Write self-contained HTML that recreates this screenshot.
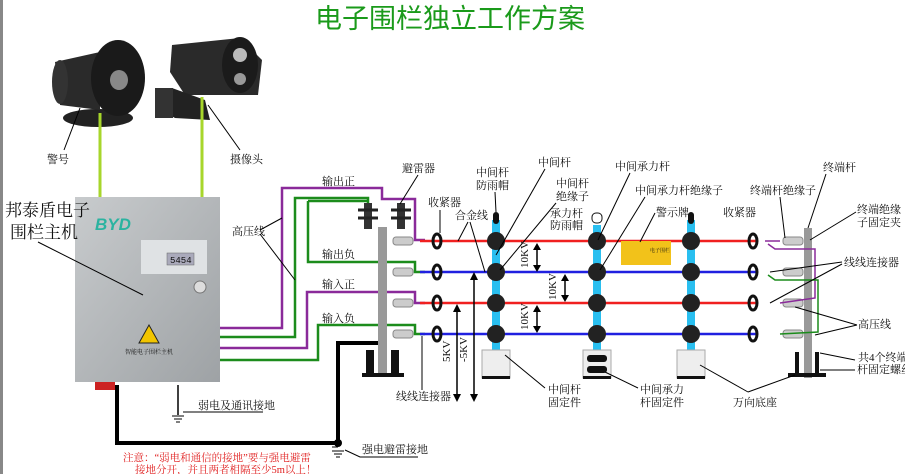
<!DOCTYPE html>
<html><head><meta charset="utf-8"><style>
body{margin:0;background:#fff;width:905px;height:474px;overflow:hidden}
svg{display:block}
text{font-family:"Liberation Serif","Noto Serif CJK SC","Noto Sans CJK SC",serif;font-size:11px;fill:#111}
</style></head><body>
<svg width="905" height="474" viewBox="0 0 905 474" xmlns="http://www.w3.org/2000/svg">
<rect x="0" y="0" width="3" height="474" fill="#888"/>
<text x="450" y="28" text-anchor="middle" style="font-size:27px;fill:#1a9a1a;font-family:'Noto Sans CJK SC',sans-serif">电子围栏独立工作方案</text>

<!-- speaker -->
<g>
<ellipse cx="98" cy="118" rx="35" ry="9" fill="#222"/>
<path d="M55 62 L100 52 L100 110 L60 105 Z" fill="#2a2a2a"/>
<ellipse cx="60" cy="82" rx="8" ry="22" fill="#333"/>
<ellipse cx="118" cy="78" rx="27" ry="38" fill="#1a1a1a"/>
<ellipse cx="119" cy="80" rx="9" ry="10" fill="#888"/>
</g>
<!-- camera -->
<g>
<path d="M172 45 L240 38 L262 60 L258 95 L185 95 L170 72 Z" fill="#2a2a2a"/>
<ellipse cx="240" cy="65" rx="18" ry="28" fill="#1b1b1b"/>
<circle cx="240" cy="55" r="7" fill="#bbb"/>
<circle cx="240" cy="79" r="6" fill="#999"/>
<path d="M155 90 L172 88 L205 100 L210 120 L175 118 L160 110 Z" fill="#222"/>
<rect x="155" y="88" width="18" height="30" fill="#333"/>
</g>
<line x1="100" y1="113" x2="100" y2="197" stroke="#a7d62b" stroke-width="3"/>
<line x1="202" y1="97" x2="202" y2="197" stroke="#a7d62b" stroke-width="3"/>
<line x1="80" y1="108" x2="64" y2="150" stroke="#000"/>
<line x1="208" y1="105" x2="240" y2="150" stroke="#000"/>
<text x="47" y="163">警号</text>
<text x="230" y="163">摄像头</text>

<!-- controller -->
<defs><linearGradient id="g" x1="0" y1="0" x2="1" y2="1"><stop offset="0" stop-color="#c8cbcd"/><stop offset="1" stop-color="#9ea2a5"/></linearGradient></defs>
<rect x="75" y="197" width="145" height="185" fill="url(#g)"/>
<text x="95" y="230" style="font-size:17px;font-style:italic;font-weight:bold;fill:#2bb3a0;font-family:'Liberation Sans',sans-serif">BYD</text>
<rect x="141" y="240" width="66" height="34" fill="#dfe2e4"/>
<rect x="167" y="253" width="27" height="12" fill="#aab" stroke="#666" stroke-width="0.5"/>
<text x="170" y="263" style="font-size:9px;font-family:'Liberation Mono',monospace">5454</text>
<circle cx="200" cy="287" r="6" fill="#ddd" stroke="#777"/>
<path d="M149 325 L139 343 L159 343 Z" fill="#f2c500" stroke="#222"/>
<text x="149" y="354" text-anchor="middle" style="font-size:6px">智能电子围栏主机</text>
<rect x="95" y="382" width="20" height="8" fill="#c22"/>
<text x="5" y="216" style="font-size:17px">邦泰盾电子</text>
<text x="10" y="238" style="font-size:17px">围栏主机</text>
<line x1="38" y1="242" x2="143" y2="295" stroke="#000"/>

<!-- HV cables -->
<g fill="none" stroke-width="2.5">
<polyline points="220,328 282,328 282,188 382,188 382,199 415,199 415,240 425,240" stroke="#8a2a9a"/>
<polyline points="220,337 295,337 295,198 368,198 368,205" stroke="#1c8c1c"/>
<polyline points="308,201 368,201 M308,201" stroke="#1c8c1c"/>
<polyline points="308,201 308,262 415,262 415,272 425,272" stroke="#1c8c1c"/>
<polyline points="220,348 307,348 307,292 415,292 415,303 425,303" stroke="#8a2a9a"/>
<polyline points="220,360 318,360 318,325 415,325 415,334 425,334" stroke="#1c8c1c"/>
</g>
<text x="322" y="185">输出正</text>
<text x="322" y="258">输出负</text>
<text x="322" y="288">输入正</text>
<text x="322" y="322">输入负</text>
<text x="232" y="235">高压线</text>
<line x1="260" y1="230" x2="282" y2="218" stroke="#000"/>
<line x1="260" y1="234" x2="295" y2="280" stroke="#000"/>

<!-- ground -->
<polyline points="117,385 117,443 338,443 338,343 382,343" fill="none" stroke="#000" stroke-width="4"/>
<circle cx="338" cy="443" r="4" fill="#000"/>
<line x1="178" y1="385" x2="178" y2="415" stroke="#000" stroke-width="1.5"/>
<line x1="172" y1="416" x2="184" y2="416" stroke="#000"/><line x1="174" y1="419" x2="182" y2="419" stroke="#000"/><line x1="176" y1="422" x2="180" y2="422" stroke="#000"/>
<line x1="332" y1="451" x2="344" y2="451" stroke="#000"/><line x1="334" y1="454" x2="342" y2="454" stroke="#000"/><line x1="336" y1="457" x2="340" y2="457" stroke="#000"/>
<line x1="332" y1="447" x2="338" y2="447" stroke="#000"/>
<polyline points="183,412 198,412 263,412" fill="none" stroke="#000"/>
<text x="198" y="409">弱电及通讯接地</text>
<polyline points="345,450 360,457 418,457" fill="none" stroke="#000"/>
<text x="362" y="453">强电避雷接地</text>
<text x="123" y="461" style="fill:#e02020;font-size:10.5px">注意：“弱电和通信的接地”要与强电避雷</text>
<text x="135" y="473" style="fill:#e02020;font-size:10.5px">接地分开，并且两者相隔至少5m以上！</text>

<!-- left post -->
<rect x="378" y="227" width="9" height="150" fill="#999"/>
<path d="M366 350 h8 v24 h-8z M391 350 h8 v24 h-8z" fill="#111"/>
<rect x="362" y="373" width="42" height="4" fill="#111"/>
<!-- arresters -->
<g fill="#333"><rect x="364" y="203" width="8" height="26"/><rect x="397" y="203" width="8" height="26"/></g>
<g stroke="#222" stroke-width="3"><line x1="358" y1="210" x2="378" y2="210"/><line x1="358" y1="218" x2="378" y2="218"/><line x1="391" y1="210" x2="411" y2="210"/><line x1="391" y1="218" x2="411" y2="218"/></g>
<text x="402" y="172">避雷器</text>
<line x1="418" y1="175" x2="400" y2="204" stroke="#000"/>
<text x="428" y="206">收紧器</text>
<line x1="440" y1="210" x2="440" y2="233" stroke="#000"/>

<!-- wires -->
<g stroke-width="2.5">
<line x1="420" y1="241" x2="758" y2="241" stroke="#f02020"/>
<line x1="420" y1="272" x2="758" y2="272" stroke="#2020e0"/>
<line x1="420" y1="303" x2="758" y2="303" stroke="#f02020"/>
<line x1="420" y1="334" x2="758" y2="334" stroke="#2020e0"/>
</g>
<g fill="#ccc" stroke="#888">
<rect x="393" y="237" width="20" height="8" rx="3"/><rect x="393" y="268" width="20" height="8" rx="3"/><rect x="393" y="299" width="20" height="8" rx="3"/><rect x="393" y="330" width="20" height="8" rx="3"/>
<rect x="783" y="237" width="20" height="8" rx="3"/><rect x="783" y="268" width="20" height="8" rx="3"/><rect x="783" y="299" width="20" height="8" rx="3"/><rect x="783" y="330" width="20" height="8" rx="3"/>
</g>
<g fill="none" stroke="#111" stroke-width="3">
<ellipse cx="437" cy="241" rx="4" ry="7"/><ellipse cx="437" cy="272" rx="4" ry="7"/><ellipse cx="437" cy="303" rx="4" ry="7"/><ellipse cx="437" cy="334" rx="4" ry="7"/>
<ellipse cx="753" cy="241" rx="4" ry="7"/><ellipse cx="753" cy="272" rx="4" ry="7"/><ellipse cx="753" cy="303" rx="4" ry="7"/><ellipse cx="753" cy="334" rx="4" ry="7"/>
</g>

<!-- middle posts -->
<g fill="#29bff0">
<rect x="492" y="220" width="8" height="155"/><rect x="593" y="225" width="8" height="150"/><rect x="687" y="220" width="8" height="155"/>
</g>
<rect x="493" y="212" width="6" height="12" rx="3" fill="#111"/>
<rect x="688" y="212" width="6" height="12" rx="3" fill="#111"/>
<rect x="592" y="213" width="10" height="10" rx="4" fill="#fff" stroke="#111"/>
<g fill="#222">
<circle cx="496" cy="241" r="9"/><circle cx="496" cy="272" r="9"/><circle cx="496" cy="303" r="9"/><circle cx="496" cy="334" r="9"/>
<circle cx="597" cy="241" r="9"/><circle cx="597" cy="272" r="9"/><circle cx="597" cy="303" r="9"/><circle cx="597" cy="334" r="9"/>
<circle cx="691" cy="241" r="9"/><circle cx="691" cy="272" r="9"/><circle cx="691" cy="303" r="9"/><circle cx="691" cy="334" r="9"/>
</g>
<g fill="#eee" stroke="#aaa">
<rect x="482" y="350" width="28" height="28"/><rect x="583" y="350" width="28" height="28"/><rect x="677" y="350" width="28" height="28"/>
</g>
<g fill="#111"><rect x="482" y="376" width="28" height="3"/><rect x="583" y="376" width="28" height="3"/><rect x="677" y="376" width="28" height="3"/>
<rect x="587" y="355" width="20" height="7" rx="3"/><rect x="587" y="366" width="20" height="7" rx="3"/></g>
<rect x="621" y="241" width="50" height="24" fill="#f2c21a"/>
<text x="650" y="252" style="font-size:5px">电子围栏</text>

<!-- dimension arrows -->
<g stroke="#000" stroke-width="1.5">
<line x1="537" y1="245" x2="537" y2="270"/><line x1="565" y1="276" x2="565" y2="300"/><line x1="537" y1="307" x2="537" y2="331"/>
<line x1="457" y1="306" x2="457" y2="400"/><line x1="474" y1="275" x2="474" y2="400"/>
</g>
<g fill="#000">
<path d="M537 243l-4 7h8z M537 272l-4-7h8z M565 274l-4 7h8z M565 302l-4-7h8z M537 305l-4 7h8z M537 333l-4-7h8z M457 304l-4 8h8z M457 402l-4-8h8z M474 272l-4 8h8z M474 402l-4-8h8z"/>
</g>
<text transform="translate(528,268) rotate(-90)">10KV</text>
<text transform="translate(556,300) rotate(-90)">10KV</text>
<text transform="translate(528,330) rotate(-90)">10KV</text>
<text transform="translate(450,362) rotate(-90)">5KV</text>
<text transform="translate(467,362) rotate(-90)">-5KV</text>

<!-- terminal post -->
<rect x="804" y="228" width="8" height="150" fill="#999"/>
<rect x="795" y="352" width="4" height="22" fill="#111"/><rect x="815" y="352" width="4" height="22" fill="#111"/>
<rect x="788" y="373" width="38" height="4" fill="#111"/>
<g fill="none" stroke-width="1.5">
<polyline points="765,241 780,241" stroke="#8a2a9a"/>
<polyline points="768,244 775,249 815,249 815,298 780,303" stroke="#8a2a9a"/>
<polyline points="768,275 775,280 818,280 818,332 780,334" stroke="#1c8c1c"/>
</g>

<!-- labels right -->
<text x="476" y="176">中间杆</text><text x="476" y="189">防雨帽</text>
<line x1="495" y1="192" x2="496" y2="212" stroke="#000"/>
<text x="538" y="166">中间杆</text>
<line x1="545" y1="169" x2="496" y2="255" stroke="#000"/>
<text x="556" y="187">中间杆</text><text x="556" y="200">绝缘子</text>
<line x1="556" y1="203" x2="500" y2="270" stroke="#000"/>
<text x="615" y="170">中间承力杆</text>
<line x1="630" y1="173" x2="598" y2="240" stroke="#000"/>
<text x="550" y="217">承力杆</text><text x="550" y="229">防雨帽</text>
<text x="635" y="194">中间承力杆绝缘子</text>
<line x1="645" y1="197" x2="600" y2="270" stroke="#000"/>
<text x="656" y="216">警示牌</text>
<line x1="655" y1="213" x2="640" y2="242" stroke="#000"/>
<text x="723" y="216">收紧器</text>
<text x="750" y="194">终端杆绝缘子</text>
<line x1="780" y1="197" x2="785" y2="238" stroke="#000"/>
<text x="823" y="171">终端杆</text>
<line x1="826" y1="174" x2="808" y2="228" stroke="#000"/>
<text x="857" y="213">终端绝缘</text><text x="857" y="226">子固定夹</text>
<line x1="856" y1="212" x2="810" y2="240" stroke="#000"/>
<text x="844" y="266">线线连接器</text>
<line x1="842" y1="262" x2="770" y2="272" stroke="#000"/><line x1="842" y1="264" x2="770" y2="303" stroke="#000"/>
<line x1="40" y1="0" x2="0" y2="0" stroke="none"/>
<text x="858" y="328">高压线</text>
<line x1="857" y1="325" x2="795" y2="307" stroke="#000"/><line x1="857" y1="325" x2="815" y2="335" stroke="#000"/>
<text x="858" y="361">共4个终端</text><text x="857" y="373">杆固定螺丝</text>
<line x1="855" y1="360" x2="820" y2="353" stroke="#000"/><line x1="855" y1="370" x2="820" y2="370" stroke="#000"/>
<text x="548" y="393">中间杆</text><text x="548" y="406">固定件</text>
<line x1="545" y1="388" x2="505" y2="355" stroke="#000"/>
<text x="640" y="393">中间承力</text><text x="640" y="406">杆固定件</text>
<line x1="638" y1="388" x2="605" y2="372" stroke="#000"/>
<text x="733" y="406">万向底座</text>
<line x1="748" y1="392" x2="700" y2="365" stroke="#000"/><line x1="748" y1="392" x2="795" y2="375" stroke="#000"/>
<text x="455" y="219">合金线</text>
<line x1="468" y1="222" x2="458" y2="241" stroke="#000"/><line x1="470" y1="222" x2="485" y2="272" stroke="#000"/>
<text x="396" y="400">线线连接器</text>
<line x1="422" y1="390" x2="422" y2="336" stroke="#000"/>
</svg>
</body></html>
